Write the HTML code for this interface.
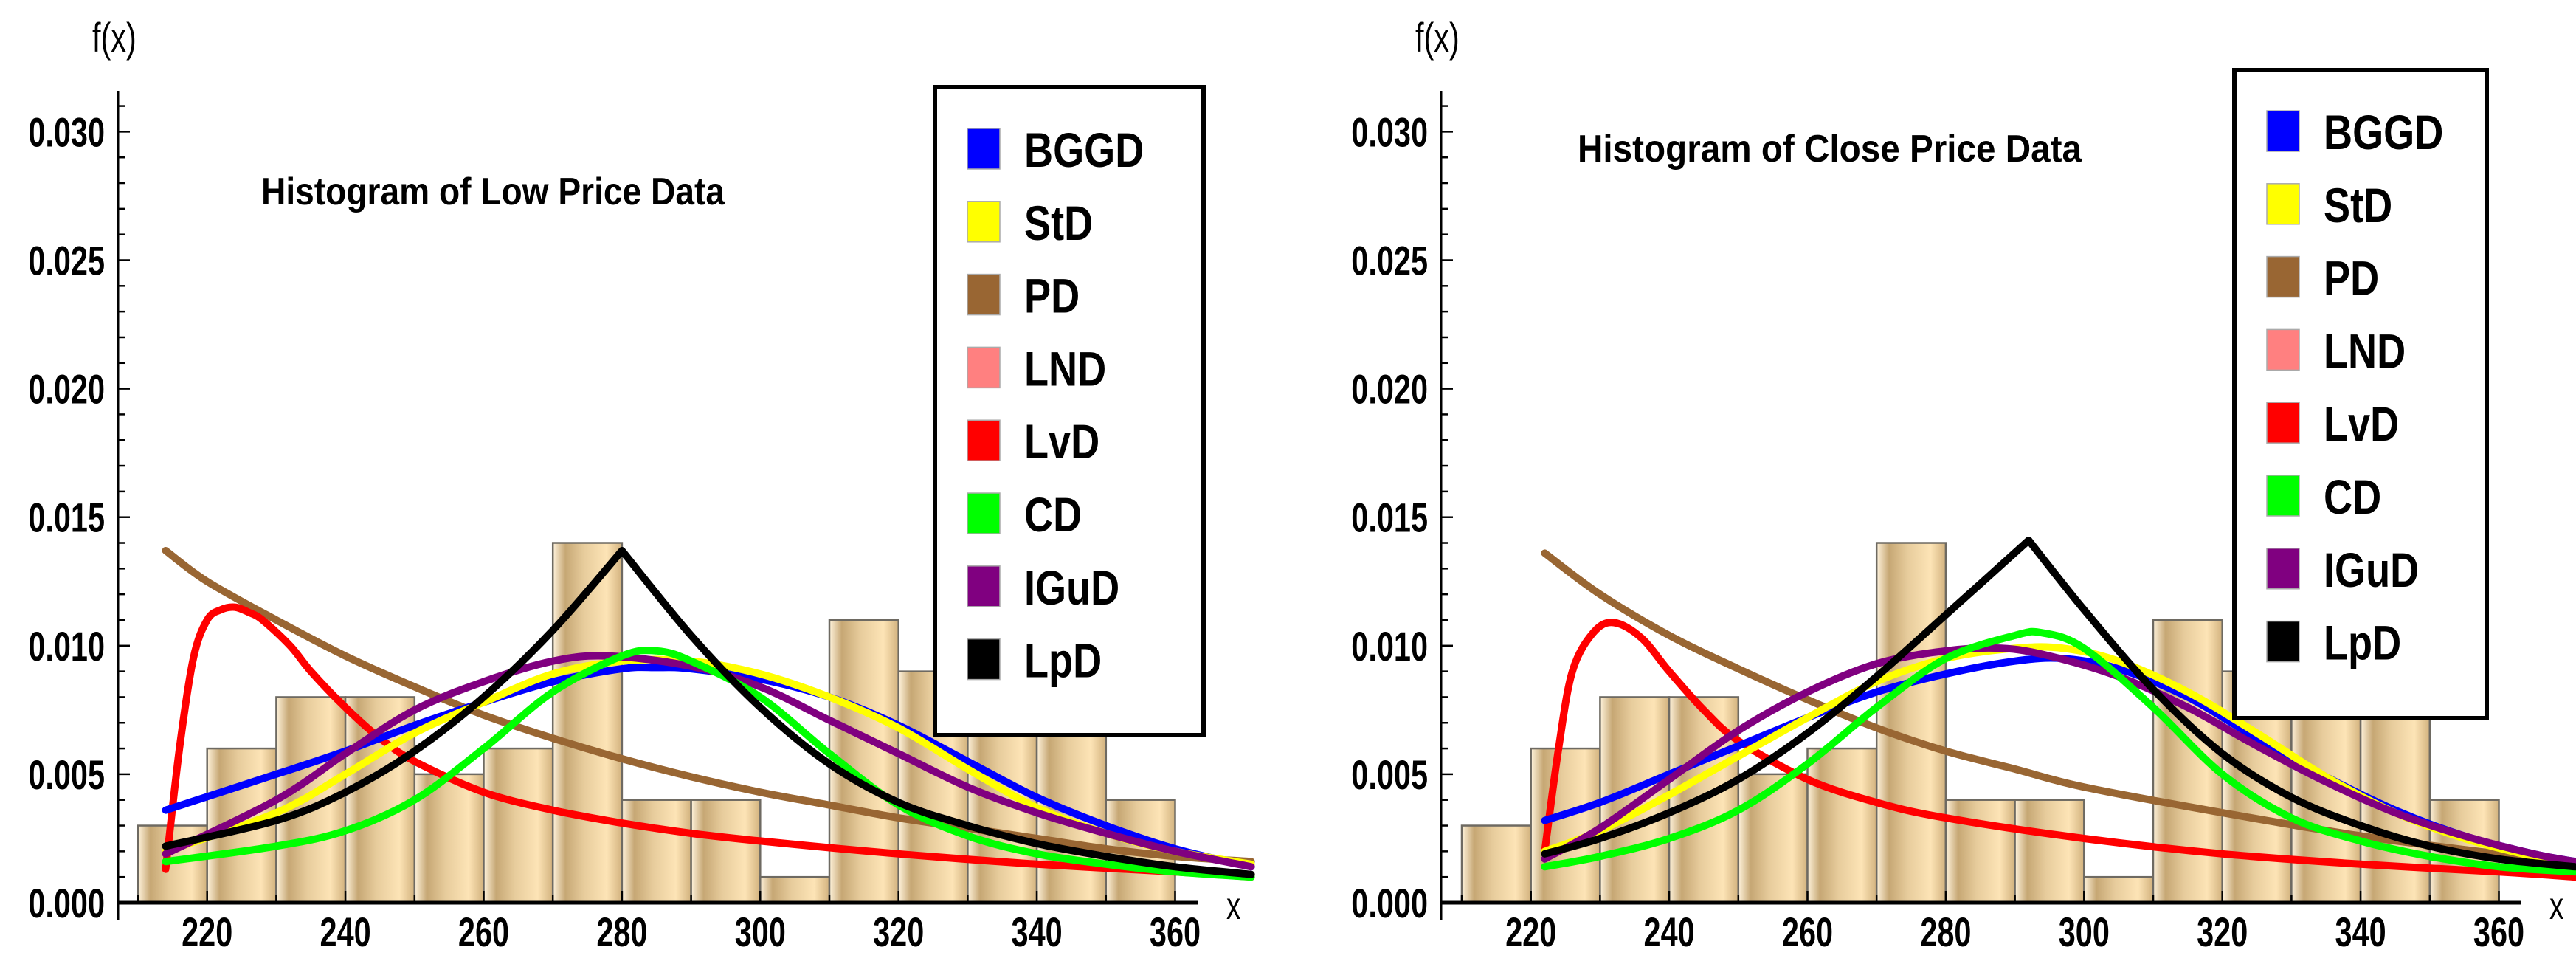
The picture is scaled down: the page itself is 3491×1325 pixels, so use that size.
<!DOCTYPE html>
<html><head><meta charset="utf-8"><style>
html,body{margin:0;padding:0;background:#fff;}
svg{display:block;font-family:"Liberation Sans",sans-serif;}
</style></head>
<body>
<svg id="fig" width="3491" height="1325" viewBox="0 0 3491 1325" xmlns="http://www.w3.org/2000/svg">
<defs>
<linearGradient id="barGrad" x1="0" y1="0" x2="1" y2="0">
<stop offset="0" stop-color="#fff3dc"/>
<stop offset="0.18" stop-color="#c6a774"/>
<stop offset="0.45" stop-color="#e7cc9c"/>
<stop offset="0.78" stop-color="#fde4b6"/>
<stop offset="1" stop-color="#d2b27e"/>
</linearGradient>
</defs>
</svg>
<script>
// ---------- data ----------
const binStarts = [210,220,230,240,250,260,270,280,290,300,310,320,330,340,350];
const lowBinHeights = [0.003,0.006,0.008,0.008,0.005,0.006,0.014,0.004,0.004,0.001,0.011,0.009,0.008,0.009,0.004];
const closeBinHeights = [0.003,0.006,0.008,0.008,0.005,0.006,0.014,0.004,0.004,0.001,0.011,0.009,0.008,0.009,0.004];
const yTickLabels = ["0.000","0.005","0.010","0.015","0.020","0.025","0.030"];
const yTickValues = [0,0.005,0.010,0.015,0.020,0.025,0.030];
const xTickLabels = ["220","240","260","280","300","320","340","360"];
const xTickValues = [220,240,260,280,300,320,340,360];
const legendNames = ["BGGD","StD","PD","LND","LvD","CD","IGuD","LpD"];
const legendColors = ["#0000ff","#ffff00","#996633","#ff8080","#ff0000","#00ff00","#800080","#000000"];

// Low price curves (x, f(x) in units of 0.001)
const lowPD_x = [214,220,230,240,250,260,270,280,290,300,310,320,330,340,350,360,371];
const lowPD_y = [13.7,12.5,11.0,9.6,8.4,7.3,6.4,5.6,4.9,4.3,3.8,3.3,2.9,2.5,2.1,1.8,1.6];
const lowLvD_x = [214,216,218,220,222,224,226,228,232,235,240,245,250,260,270,280,290,300,320,340,360,371];
const lowLvD_y = [1.3,6.0,9.5,11.0,11.4,11.5,11.3,11.0,10.0,9.0,7.6,6.4,5.5,4.3,3.6,3.1,2.7,2.4,1.9,1.5,1.2,1.0];
const lowBGGD_x = [214,230,240,250,260,270,280,285,290,300,310,320,330,340,350,360,371];
const lowBGGD_y = [3.6,5.0,5.9,6.9,7.8,8.6,9.1,9.15,9.1,8.7,8.0,6.9,5.5,4.1,3.0,2.1,1.4];
const lowStD_x = [214,230,240,250,260,270,280,290,300,310,320,330,340,350,360,371];
const lowStD_y = [2.0,3.5,5.0,6.6,7.8,8.9,9.4,9.4,8.9,8.0,6.8,5.2,3.7,2.7,2.0,1.5];
const lowIGuD_x = [214,230,240,250,260,270,278,290,300,310,320,330,340,350,360,371];
const lowIGuD_y = [1.9,4.0,5.8,7.5,8.6,9.4,9.6,9.2,8.4,7.1,5.8,4.5,3.5,2.7,2.0,1.4];
const lowCD_x = [214,230,240,250,260,270,280,285,290,300,310,320,330,340,350,360,371];
const lowCD_y = [1.6,2.2,2.8,4.0,6.0,8.2,9.6,9.8,9.4,8.0,5.8,3.8,2.6,1.9,1.5,1.2,1.0];
const lowLpD_x = [214,230,240,250,260,270,280,290,300,310,320,330,340,350,360,371];
const lowLpD_y = [2.2,3.2,4.3,5.9,8.0,10.6,13.7,10.4,7.6,5.4,3.9,3.0,2.3,1.8,1.4,1.1];

// Close price curves
const closePD_x = [222,230,240,250,260,270,280,290,300,320,340,360,371];
const closePD_y = [13.6,12.0,10.4,9.1,7.9,6.8,5.9,5.2,4.5,3.5,2.6,1.9,1.6];
const closeLvD_x = [222,224,226,229,232,236,240,245,250,260,270,280,300,320,340,360,371];
const closeLvD_y = [2.0,6.0,9.0,10.5,10.9,10.3,9.0,7.5,6.3,4.8,3.9,3.3,2.5,1.9,1.5,1.2,1.0];
const closeBGGD_x = [222,230,240,250,260,270,280,290,297,305,315,325,335,345,355,365,371];
const closeBGGD_y = [3.2,3.9,5.0,6.1,7.2,8.2,8.9,9.4,9.5,9.1,8.0,6.4,4.9,3.6,2.6,1.9,1.6];
const closeStD_x = [222,230,240,250,260,270,280,290,297,305,315,325,335,345,355,365,371];
const closeStD_y = [2.0,2.8,4.2,5.7,7.2,8.6,9.5,9.9,9.9,9.4,8.2,6.6,4.9,3.5,2.5,1.8,1.5];
const closeIGuD_x = [222,230,240,250,260,270,280,288,295,305,315,325,335,345,355,365,371];
const closeIGuD_y = [1.7,2.9,4.8,6.7,8.2,9.3,9.8,9.9,9.6,8.8,7.6,6.1,4.7,3.5,2.6,1.9,1.6];
const closeCD_x = [222,230,240,250,260,270,280,290,294,300,310,320,330,340,350,360,371];
const closeCD_y = [1.4,1.8,2.5,3.6,5.4,7.6,9.5,10.4,10.5,9.9,7.6,5.0,3.3,2.4,1.8,1.4,1.2];
const closeLpD_x = [222,230,240,250,260,270,280,292,300,310,320,330,340,350,360,371];
const closeLpD_y = [1.9,2.5,3.5,4.8,6.6,8.8,11.2,14.1,11.4,8.3,5.8,4.1,3.0,2.2,1.7,1.4];

// ---------- drawing ----------
const NS = "http://www.w3.org/2000/svg";
const svg = document.getElementById("fig");
function mk(tag, attrs, parent){
  const e = document.createElementNS(NS, tag);
  for (const k in attrs) e.setAttribute(k, attrs[k]);
  (parent||svg).appendChild(e);
  return e;
}
function spline(pts){
  let d = "M" + pts[0][0].toFixed(1) + "," + pts[0][1].toFixed(1);
  for (let i = 0; i < pts.length - 1; i++) {
    const p0 = pts[Math.max(0, i-1)], p1 = pts[i], p2 = pts[i+1], p3 = pts[Math.min(pts.length-1, i+2)];
    const c1x = p1[0] + (p2[0]-p0[0])/6, c1y = p1[1] + (p2[1]-p0[1])/6;
    const c2x = p2[0] - (p3[0]-p1[0])/6, c2y = p2[1] - (p3[1]-p1[1])/6;
    d += " C" + c1x.toFixed(1) + "," + c1y.toFixed(1) + " " + c2x.toFixed(1) + "," + c2y.toFixed(1) + " " + p2[0].toFixed(1) + "," + p2[1].toFixed(1);
  }
  return d;
}
function condensed(x){ return `translate(${x},0) scale(0.74,1) translate(${-x},0)`; }

function drawPanel(cfg){
  const g = mk("g", {});
  
  
  const x0 = cfg.axisX, zeroY = 1223, pxPerUnit = 9.37, pxPerY = 34820;
  const xS = v => cfg.x210 + (v - 210) * pxPerUnit;
  const yS = v => zeroY - v * pxPerY;

  binStarts.forEach((b, i) => {
    const r = mk("rect", {x: xS(b), y: yS(cfg.bins[i]), width: 10*pxPerUnit, height: cfg.bins[i]*pxPerY,
      fill: "url(#barGrad)", stroke: "#6e6a62", "stroke-width": 2.5}, g);
    
    
  });

  const ya = mk("line", {x1: x0, y1: 123, x2: x0, y2: 1246, stroke: "#000", "stroke-width": 3}, g);
  
  
  const xa = mk("line", {x1: x0, y1: zeroY, x2: cfg.axisEnd, y2: zeroY, stroke: "#000", "stroke-width": 5}, g);
  
  

  for (let k = 0; k <= 31; k++) {
    const major = k % 5 === 0;
    mk("line", {x1: x0, y1: yS(k*0.001), x2: x0 + (major ? 16 : 10), y2: yS(k*0.001), stroke: "#000", "stroke-width": 2.5}, g);
  }
  yTickLabels.forEach((t, i) => {
    const tx = mk("text", {x: x0 - 18, y: yS(yTickValues[i]) + 20, "text-anchor": "end", "font-size": 56, "font-weight": "bold",
      transform: condensed(x0-18)}, g);
    tx.textContent = t;
    
    
  });
  for (let v = 210; v <= 360; v += 10) {
    const major = v % 20 === 0;
    mk("line", {x1: xS(v), y1: zeroY, x2: xS(v), y2: zeroY - (major ? 16 : 10), stroke: "#000", "stroke-width": 2.5}, g);
  }
  xTickLabels.forEach((t, i) => {
    const cx = xS(xTickValues[i]);
    const tx = mk("text", {x: cx, y: 1282, "text-anchor": "middle", "font-size": 56, "font-weight": "bold",
      transform: condensed(cx)}, g);
    tx.textContent = t;
    
    
  });
  const xl = mk("text", {x: cfg.xLabelX, y: 1245, "font-size": 52, transform: condensed(cfg.xLabelX)}, g);
  xl.textContent = "x";
  
  
  const fl = mk("text", {x: x0 - 35, y: 70, "font-size": 56, transform: condensed(x0-35)}, g);
  fl.textContent = "f(x)";
  
  

  const tt = mk("text", {x: cfg.titleX, y: cfg.titleY, "font-size": 52, "font-weight": "bold", textLength: cfg.titleW, lengthAdjust: "spacingAndGlyphs"}, g);
  tt.textContent = cfg.title;
  
  

  cfg.curves.forEach(c => {
    const pts = c.xs.map((v, i) => [xS(v), yS(c.ys[i]*0.001)]);
    let d;
    if (c.cusp) {
      let k = 0;
      c.ys.forEach((v, i) => { if (v > c.ys[k]) k = i; });
      d = spline(pts.slice(0, k+1)) + " " + spline(pts.slice(k));
    } else d = spline(pts);
    const p = mk("path", {d: d, fill: "none", stroke: c.color, "stroke-width": 10, "stroke-linejoin": "miter", "stroke-linecap": "round"}, g);
    
    
  });

  const L = cfg.legend;
  const lg = mk("g", {}, g);
  
  
  mk("rect", {x: L.x, y: L.y, width: L.w, height: L.h, fill: "#fff", stroke: "#000", "stroke-width": 6}, lg);
  legendNames.forEach((n, i) => {
    const cy = L.sqY + i * 98.8;
    const row = mk("g", {}, lg);
    
    
    mk("rect", {x: L.sqX, y: cy, width: 44, height: 55, fill: legendColors[i], stroke: "#aaa", "stroke-width": 1.5}, row);
    const t = mk("text", {x: L.sqX + 77, y: cy + 52, "font-size": 66, "font-weight": "bold", transform: `translate(${L.sqX+77},0) scale(0.82,1) translate(${-(L.sqX+77)},0)`}, row);
    t.textContent = n;
  });
}

drawPanel({
  name: "low-price-panel", axisX: 160, x210: 187, axisEnd: 1623, xLabelX: 1662,
  title: "Histogram of Low Price Data", titleX: 354, titleY: 277, titleW: 628,
  bins: lowBinHeights,
  legend: {x: 1267, y: 118, w: 364, h: 878, sqX: 1311, sqY: 174},
  curves: [
    {id: "pd", color: "#996633", xs: lowPD_x, ys: lowPD_y},
    {id: "lvd", color: "#ff0000", xs: lowLvD_x, ys: lowLvD_y},
    {id: "bggd", color: "#0000ff", xs: lowBGGD_x, ys: lowBGGD_y},
    {id: "std", color: "#ffff00", xs: lowStD_x, ys: lowStD_y},
    {id: "igud", color: "#800080", xs: lowIGuD_x, ys: lowIGuD_y},
    {id: "cd", color: "#00ff00", xs: lowCD_x, ys: lowCD_y},
    {id: "lpd", color: "#000000", xs: lowLpD_x, ys: lowLpD_y, cusp: true}
  ]
});
drawPanel({
  name: "close-price-panel", axisX: 1953, x210: 1981, axisEnd: 3416, xLabelX: 3455,
  title: "Histogram of Close Price Data", titleX: 2138, titleY: 219, titleW: 683,
  bins: closeBinHeights,
  legend: {x: 3028, y: 95, w: 342, h: 878, sqX: 3072, sqY: 150},
  curves: [
    {id: "pd", color: "#996633", xs: closePD_x, ys: closePD_y},
    {id: "lvd", color: "#ff0000", xs: closeLvD_x, ys: closeLvD_y},
    {id: "bggd", color: "#0000ff", xs: closeBGGD_x, ys: closeBGGD_y},
    {id: "std", color: "#ffff00", xs: closeStD_x, ys: closeStD_y},
    {id: "igud", color: "#800080", xs: closeIGuD_x, ys: closeIGuD_y},
    {id: "cd", color: "#00ff00", xs: closeCD_x, ys: closeCD_y},
    {id: "lpd", color: "#000000", xs: closeLpD_x, ys: closeLpD_y, cusp: true}
  ]
});
</script>
</body></html>
